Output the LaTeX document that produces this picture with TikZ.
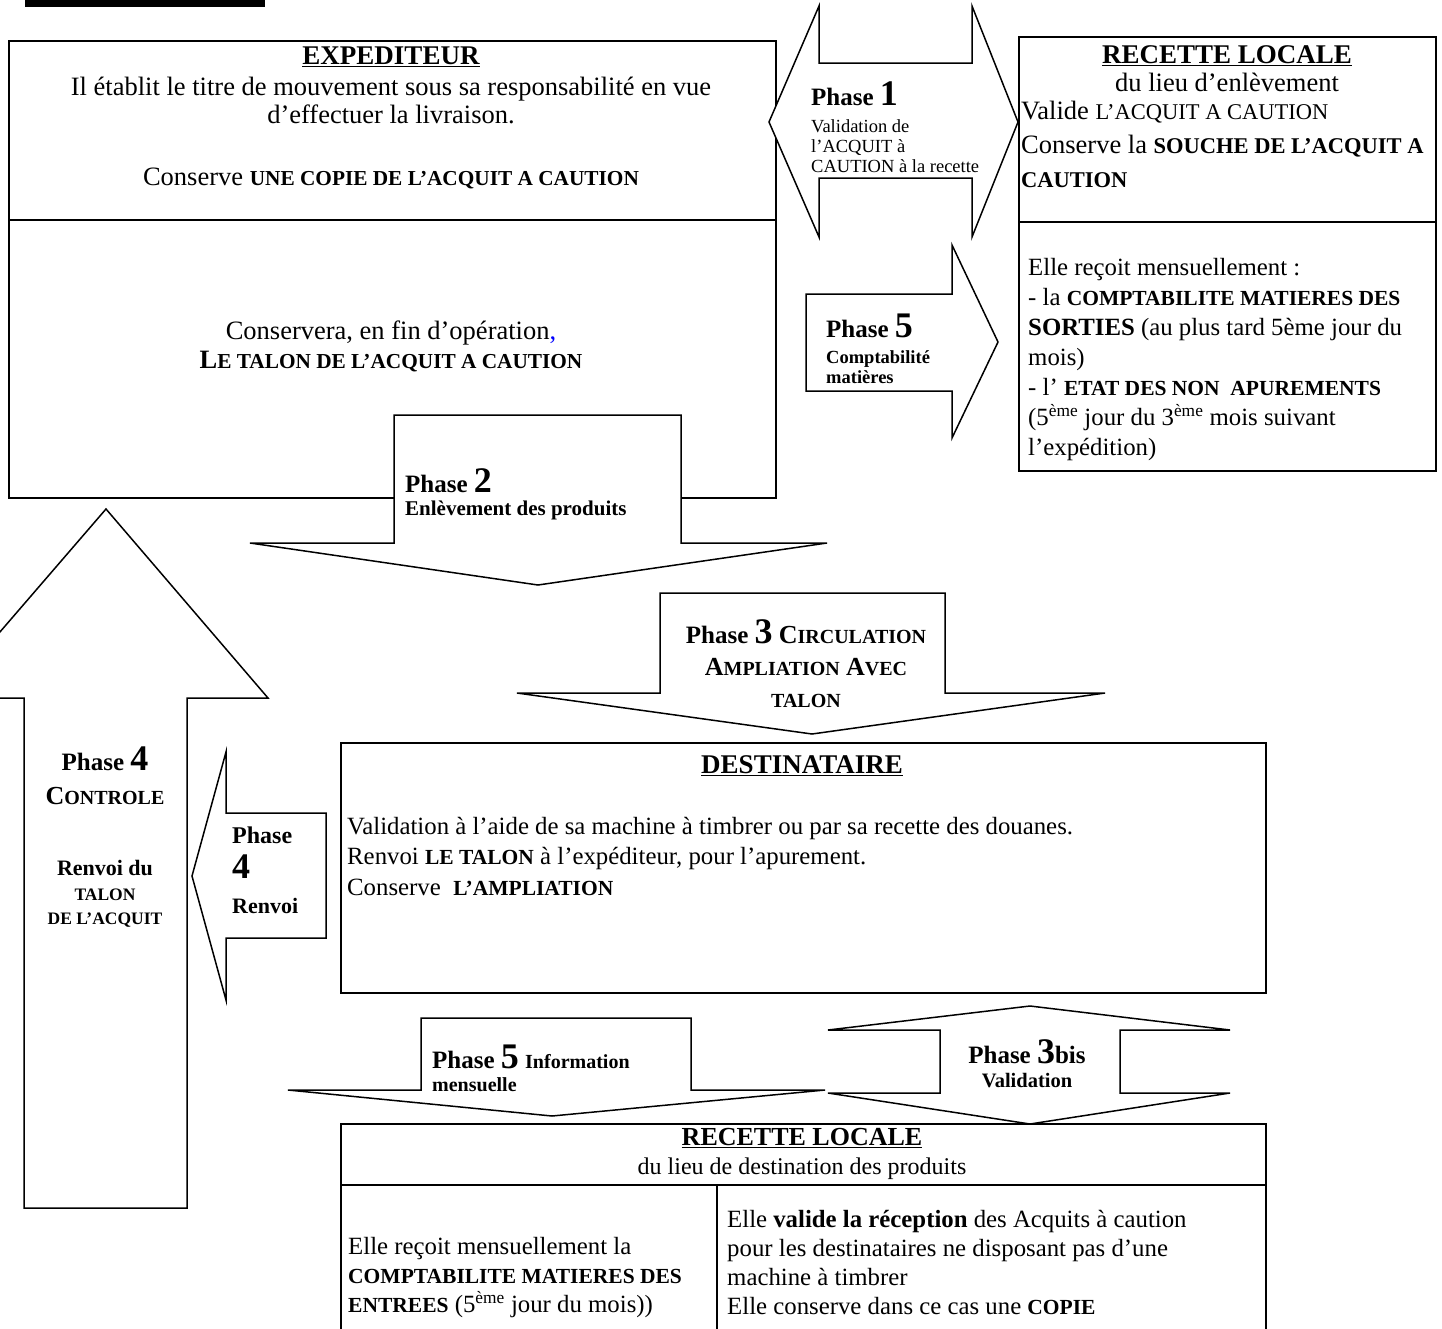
\documentclass[tikz,border=0pt]{standalone}
\usepackage{fontspec}
\setmainfont{Liberation Serif}
\usepackage{xcolor}
\newcommand\phdig[1]{{\fontsize{36}{36}\selectfont #1}}
\newcommand\smcp[1]{{\fontsize{20}{20}\selectfont #1}}
\newcommand\bgcp[1]{{\fontsize{26}{26}\selectfont #1}}
\newcommand\smA[1]{{\fontsize{21.3}{21.3}\selectfont #1}}
\newcommand\smB[1]{{\fontsize{21.5}{21.5}\selectfont #1}}
\newcommand\smC[1]{{\fontsize{22.5}{22.5}\selectfont #1}}
\tikzset{
  boxl/.style={line width=2.4pt},
  boxn/.style={draw, line width=2.4pt, inner sep=0pt},
  blk/.style={draw, fill=white, line width=1.5pt, line join=miter},
  tbL/.style={inner sep=0pt, font=\fontsize{26.5}{28}\selectfont},
  tb/.style={inner sep=0pt, font=\fontsize{24.8}{29}\selectfont},
  hd/.style={inner sep=0pt, font=\fontsize{27}{30}\selectfont\bfseries},
  ph/.style={inner sep=0pt, font=\fontsize{25}{25}\selectfont\bfseries},
  sml/.style={inner sep=0pt, font=\fontsize{18.5}{20}\selectfont},
}
\begin{document}
\begin{tikzpicture}[x=1pt,y=-1pt]
\useasboundingbox (0,0) rectangle (1442,1328);
% top bar
\fill (25,0) rectangle (265,7);
% boxes
\node[boxn, anchor=north west, minimum width=767pt, minimum height=457pt] (expbox) at (8,40) {};
\draw[boxl] (8,220) -- (775,220);
\node[boxn, anchor=north west, minimum width=417pt, minimum height=434pt] (rlbox) at (1018,36) {};
\draw[boxl] (1018,222) -- (1435,222);
\node[boxn, anchor=north west, minimum width=925pt, minimum height=250pt] (dsbox) at (340,742) {};
\node[boxn, anchor=north west, minimum width=925pt, minimum height=320pt] (rbbox) at (340,1123) {};
\draw[boxl] (340,1185) -- (1265,1185);
\draw[boxl] (717,1185) -- (717,1450);
% block arrows
\draw[blk] (769,122) -- (819,6) -- (819,63) -- (972,63) -- (972,6) -- (1018,122) -- (972,237) -- (972,178) -- (819,178) -- (819,237) -- cycle;
\draw[blk] (806,294) -- (952,294) -- (952,245) -- (998,342) -- (952,438) -- (952,391) -- (806,391) -- cycle;
\draw[blk] (394,415) -- (681,415) -- (681,543) -- (827,543) -- (538,585) -- (250,543) -- (394,543) -- cycle;
\draw[blk] (660,593) -- (945,593) -- (945,693) -- (1105,693) -- (812,734) -- (517,693) -- (660,693) -- cycle;
\draw[blk] (106,509) -- (268,698) -- (187,698) -- (187,1208) -- (24,1208) -- (24,698) -- (-57,698) -- cycle;
\draw[blk] (192,876) -- (226,752) -- (226,813) -- (326,813) -- (326,938) -- (226,938) -- (226,1000) -- cycle;
\draw[blk] (421,1018) -- (691,1018) -- (691,1090) -- (825,1090) -- (552,1116) -- (288,1090) -- (421,1090) -- cycle;
\draw[blk] (1030,1006) -- (1230,1030) -- (1120,1030) -- (1120,1093) -- (1230,1093) -- (1030,1124) -- (828,1093) -- (940,1093) -- (940,1030) -- (828,1030) -- cycle;
% EXPEDITEUR texts
\node[hd] (expT) at (391,57) {\underline{EXPEDITEUR}};
\node[tbL, align=center] (expA) at (391,100) {Il établit le titre de mouvement sous sa responsabilité en vue\\d’effectuer la livraison.};
\node[tbL] (expB) at (391,178) {Conserve {\bfseries\smA{UNE COPIE DE L’ACQUIT A CAUTION}}};
\node[tbL, align=center, font=\fontsize{26.5}{29}\selectfont] (expC) at (391,346) {Conservera, en fin d’opération\textcolor{blue}{,}\\{\bfseries L\smA{E TALON DE L’ACQUIT A CAUTION}}};
% RECETTE LOCALE top
\node[hd] (rlT) at (1227,56) {\underline{RECETTE LOCALE}};
\node[tbL] (rlA) at (1227,82) {du lieu d’enlèvement};
\node[tbL, align=left, anchor=west, font=\fontsize{26.5}{34}\selectfont] (rlB) at (1021,144) {Valide \smC{L’ACQUIT A CAUTION}\\Conserve la {\bfseries\smC{SOUCHE DE L’ACQUIT A}}\\{\bfseries\smC{CAUTION}}};
\node[tb, align=left, anchor=west, font=\fontsize{24.8}{30}\selectfont] (rlC) at (1028,360) {Elle reçoit mensuellement :\\- la {\bfseries\smB{COMPTABILITE MATIERES DES}}\\{\bfseries SORTIES} (au plus tard 5ème jour du\\mois)\\- l’ {\bfseries\smB{ETAT DES NON\ \ APUREMENTS}}\\(5\textsuperscript{ème} jour du 3\textsuperscript{ème} mois suivant\\l’expédition)};
% Phase 1
\node[ph, anchor=west] (p1a) at (811,94) {Phase \phdig{1}};
\node[sml, align=left, anchor=west] (p1b) at (811,146) {Validation de\\l’ACQUIT à\\CAUTION à la recette};
% Phase 5 right
\node[ph, anchor=west] (p5a) at (826,326) {Phase \phdig{5}};
\node[inner sep=0pt, font=\fontsize{18.5}{19.5}\selectfont\bfseries, align=left, anchor=west] (p5b) at (826,367) {Comptabilité\\matières};
% Phase 2
\node[ph, anchor=west] (p2a) at (405,481) {Phase \phdig{2}};
\node[inner sep=0pt, font=\fontsize{21}{21}\selectfont\bfseries, anchor=west] (p2b) at (405,510) {Enlèvement des produits};
% Phase 3
\node[ph, align=center, font=\fontsize{25}{32}\selectfont\bfseries] (p3) at (806,664) {Phase \phdig{3} \bgcp{C}\smcp{IRCULATION}\\\bgcp{A}\smcp{MPLIATION} \bgcp{A}\smcp{VEC}\\\smcp{TALON}};
% DESTINATAIRE
\node[hd] (dsT) at (802,766) {\underline{DESTINATAIRE}};
\node[tb, align=left, anchor=west, font=\fontsize{24.8}{30.5}\selectfont] (dsA) at (347,856) {Validation à l’aide de sa machine à timbrer ou par sa recette des douanes.\\Renvoi {\bfseries\smB{LE TALON}} à l’expéditeur, pour l’apurement.\\Conserve\ \ {\bfseries\smB{L’AMPLIATION}}};
% Phase 4 big
\node[ph, align=center, font=\fontsize{25}{34}\selectfont\bfseries] (p4a) at (105,776) {Phase \phdig{4}\\\bgcp{C}\smcp{ONTROLE}};
\node[inner sep=0pt, align=center, font=\fontsize{22}{24.5}\selectfont\bfseries] (p4b) at (105,894) {Renvoi du\\{\fontsize{17.5}{17.5}\selectfont TALON}\\{\fontsize{17.5}{17.5}\selectfont DE L’ACQUIT}};
% Phase 4 small
\node[inner sep=0pt, align=left, anchor=west, font=\fontsize{24}{35}\selectfont\bfseries] (p4c) at (232,870) {Phase\\\phdig{4}\\{\fontsize{22}{22}\selectfont Renvoi}};
% Phase 5 bottom
\node[ph, anchor=west] (p5c) at (432,1057) {Phase \phdig{5} {\fontsize{20}{20}\selectfont Information}};
\node[inner sep=0pt, font=\fontsize{20}{20}\selectfont\bfseries, anchor=west] (p5d) at (432,1085) {mensuelle};
% Phase 3bis
\node[ph] (p3b) at (1027,1052) {Phase \phdig{3}bis};
\node[inner sep=0pt, font=\fontsize{20.5}{20.5}\selectfont\bfseries] (p3c) at (1027,1081) {Validation};
% RECETTE LOCALE bottom
\node[hd, font=\fontsize{26}{30}\selectfont\bfseries] (rbT) at (802,1138) {\underline{RECETTE LOCALE}};
\node[tb, font=\fontsize{24}{29}\selectfont] (rbA) at (802,1169) {du lieu de destination des produits};
\node[tb, align=left, anchor=west] (rbL) at (348,1278) {Elle reçoit mensuellement la\\{\bfseries\smB{COMPTABILITE MATIERES DES}}\\{\bfseries\smB{ENTREES}} (5\textsuperscript{ème} jour du mois))};
\node[tb, align=left, anchor=west] (rbR) at (727,1262) {Elle {\bfseries valide la réception} des Acquits à caution\\pour les destinataires ne disposant pas d’une\\machine à timbrer\\Elle conserve dans ce cas une {\bfseries\smB{COPIE}}};
\end{tikzpicture}
\end{document}
